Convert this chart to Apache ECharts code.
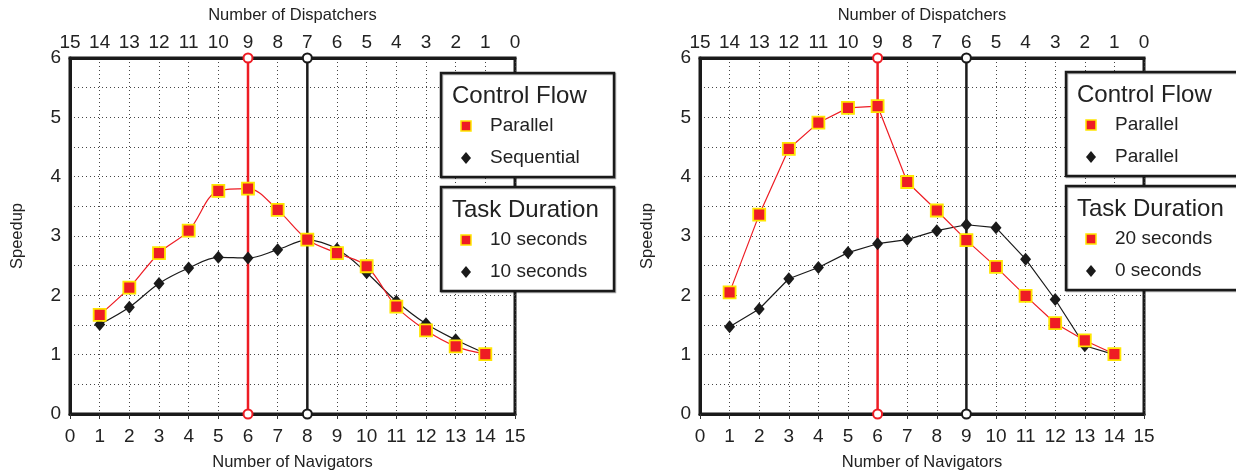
<!DOCTYPE html>
<html>
<head>
<meta charset="utf-8">
<script src="https://cdn.jsdelivr.net/npm/echarts@6/dist/echarts.min.js"></script>
<style>
  html, body { margin: 0; padding: 0; background: #fff; }
  #chart { width: 1236px; height: 474px; }
</style>
</head>
<body>
<div id="chart"></div>
<script>
// navigators on bottom axis, dispatchers = 15 - navigators on top axis
var navigators = [1, 2, 3, 4, 5, 6, 7, 8, 9, 10, 11, 12, 13, 14];

// left panel: parallel vs sequential, 10 s tasks
var leftParallel   = [1.67, 2.13, 2.71, 3.09, 3.76, 3.80, 3.44, 2.94, 2.71, 2.49, 1.81, 1.41, 1.14, 1.01];
var leftSequential = [1.51, 1.80, 2.20, 2.46, 2.64, 2.63, 2.77, 2.93, 2.78, 2.38, 1.90, 1.52, 1.25, 1.02];

// right panel: parallel 20 s vs parallel 0 s
var rightPar20 = [2.05, 3.36, 4.47, 4.91, 5.16, 5.19, 3.91, 3.43, 2.93, 2.48, 1.99, 1.53, 1.24, 1.01];
var rightPar0  = [1.47, 1.77, 2.28, 2.47, 2.72, 2.87, 2.94, 3.09, 3.19, 3.14, 2.61, 1.93, 1.15, 1.00];

// vertical markers (navigator count)
var leftMarks  = [6, 8];
var rightMarks = [6, 9];

var leftLegend  = ['Control Flow', 'Parallel', 'Sequential', 'Task Duration', '10 seconds', '10 seconds'];
var rightLegend = ['Control Flow', 'Parallel', 'Parallel', 'Task Duration', '20 seconds', '0 seconds'];

var RED = '#ee1c24', YEL = '#ffe600', BLK = '#1a1a1a';
var FONT = 'Liberation Sans';

var grids = [
  { left: 70, top: 58, width: 445, height: 356 },
  { left: 700, top: 58, width: 444, height: 356 }
];

function pairs(xs, ys) {
  return xs.map(function (x, i) { return [x, ys[i]]; });
}

var xAxes = [], yAxes = [], series = [];
grids.forEach(function (g, i) {
  g.show = true;
  g.borderColor = BLK;
  g.borderWidth = 3;
  g.outerBoundsMode = 'none';
  g.containLabel = false;
  xAxes.push({
    gridIndex: i, type: 'value', min: 0, max: 15, interval: 1, position: 'bottom',
    name: 'Number of Navigators', nameLocation: 'middle', nameGap: 40,
    nameTextStyle: { fontFamily: FONT, fontSize: 16.5, color: '#222' },
    axisLine: { lineStyle: { color: BLK, width: 3 } },
    axisTick: { show: true, length: 5, lineStyle: { color: '#333', width: 1 } },
    axisLabel: { fontFamily: FONT, fontSize: 19, color: '#222', margin: 13 },
    splitLine: { show: true, lineStyle: { color: '#444', type: [1, 3], width: 1 } }
  });
  xAxes.push({
    gridIndex: i, type: 'value', min: 0, max: 15, interval: 1, position: 'top', inverse: true,
    name: 'Number of Dispatchers', nameLocation: 'middle', nameGap: 34,
    nameTextStyle: { fontFamily: FONT, fontSize: 16.5, color: '#222' },
    axisLine: { lineStyle: { color: BLK, width: 3 } },
    axisTick: { show: false },
    axisLabel: { fontFamily: FONT, fontSize: 19, color: '#222', margin: 6 },
    splitLine: { show: false }
  });
  yAxes.push({
    gridIndex: i, type: 'value', min: 0, max: 6, interval: 0.5,
    name: 'Speedup', nameLocation: 'middle', nameGap: 44, nameRotate: 90,
    nameTextStyle: { fontFamily: FONT, fontSize: 16.5, color: '#222' },
    axisLine: { show: true, lineStyle: { color: BLK, width: 3 } },
    axisTick: { show: false },
    axisLabel: {
      fontFamily: FONT, fontSize: 19, color: '#222', margin: 9,
      formatter: function (v) { return v % 1 === 0 ? String(v) : ''; }
    },
    splitLine: { show: true, lineStyle: { color: '#444', type: [1, 3], width: 1 } }
  });
});

function markLine(gi, x, color) {
  return {
    type: 'line', xAxisIndex: gi * 2, yAxisIndex: gi, clip: false, z: 2,
    data: [[x, 0], [x, 6]],
    symbol: 'emptyCircle', symbolSize: 9,
    lineStyle: { color: color, width: 2.5 },
    itemStyle: { color: color, borderColor: color, borderWidth: 2 },
    silent: true
  };
}

function dataLine(gi, ys, kind, smooth) {
  var isSq = kind === 'square';
  return {
    type: 'line', xAxisIndex: gi * 2, yAxisIndex: gi, z: isSq ? 4 : 3,
    data: pairs(navigators, ys), smooth: smooth,
    symbol: isSq ? 'rect' : 'diamond', symbolSize: isSq ? 12 : [11, 13],
    lineStyle: { color: isSq ? RED : BLK, width: 1.2 },
    itemStyle: isSq ? { color: RED, borderColor: YEL, borderWidth: 1.8 } : { color: BLK },
    silent: true
  };
}

series.push(markLine(0, leftMarks[0], RED), markLine(0, leftMarks[1], BLK));
series.push(markLine(1, rightMarks[0], RED), markLine(1, rightMarks[1], BLK));
series.push(dataLine(0, leftSequential, 'diamond', 0.35), dataLine(0, leftParallel, 'square', 0.35));
series.push(dataLine(1, rightPar0, 'diamond', false), dataLine(1, rightPar20, 'square', false));

// legend boxes drawn as graphics
function legendBox(x, y, w, labels, dx) {
  var els = [];
  var boxes = [[y, labels.slice(0, 3)], [y + 114, labels.slice(3)]];
  boxes.forEach(function (b) {
    var top = b[0];
    els.push({
      type: 'rect', z: 50,
      shape: { x: x, y: top, width: w, height: 104 },
      style: { fill: '#fff', stroke: BLK, lineWidth: 2.5, shadowColor: 'rgba(0,0,0,0.35)', shadowOffsetX: 1, shadowOffsetY: 1 }
    });
    els.push({
      type: 'text', z: 51, x: x + 11, y: top + 23,
      style: { text: b[1][0], font: '24px "' + FONT + '"', fill: '#222', verticalAlign: 'middle' }
    });
    var sy = [top + 53, top + 85];
    els.push({
      type: 'rect', z: 51,
      shape: { x: x + dx - 5, y: sy[0] - 5, width: 10, height: 10 },
      style: { fill: RED, stroke: YEL, lineWidth: 1.5 }
    });
    els.push({
      type: 'polygon', z: 51,
      shape: { points: [[x + dx, sy[1] - 6], [x + dx + 5, sy[1]], [x + dx, sy[1] + 6], [x + dx - 5, sy[1]]] },
      style: { fill: BLK }
    });
    els.push({
      type: 'text', z: 51, x: x + dx + 24, y: sy[0],
      style: { text: b[1][1], font: '19px "' + FONT + '"', fill: '#222', verticalAlign: 'middle' }
    });
    els.push({
      type: 'text', z: 51, x: x + dx + 24, y: sy[1],
      style: { text: b[1][2], font: '19px "' + FONT + '"', fill: '#222', verticalAlign: 'middle' }
    });
  });
  return els;
}

var chart = echarts.init(document.getElementById('chart'));
chart.setOption({
  animation: false,
  grid: grids,
  xAxis: xAxes,
  yAxis: yAxes,
  series: series,
  graphic: legendBox(441, 73, 173, leftLegend, 25).concat(legendBox(1066, 72, 200, rightLegend, 25))
});
</script>
</body>
</html>
